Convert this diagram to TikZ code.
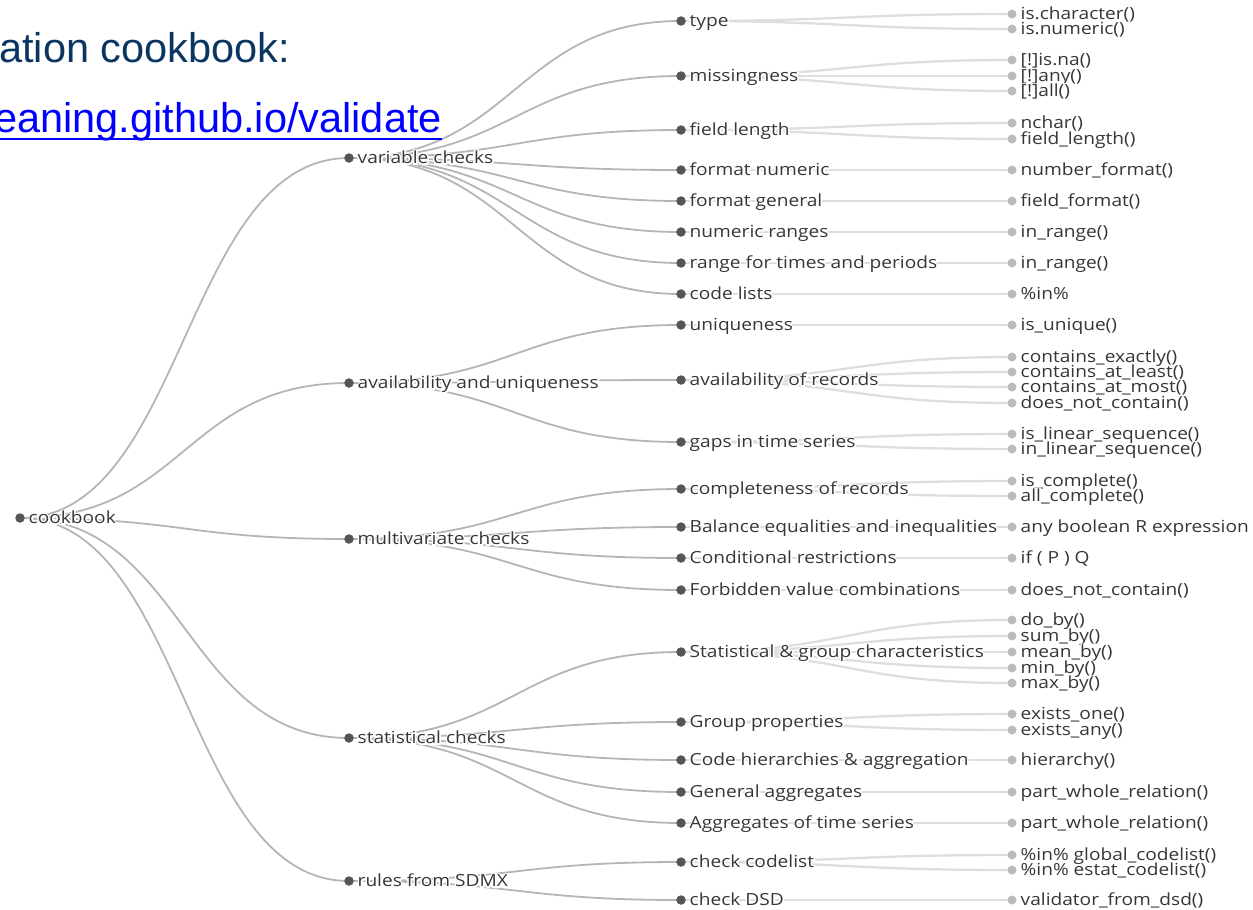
\documentclass[tikz,border=0pt]{standalone}
\usepackage{fontspec}
\setmainfont{Open Sans}
\newfontfamily\lblfont[FakeStretch=1.145]{Open Sans}
\newfontfamily\halofont[FakeStretch=1.145,FakeBold=18]{Open Sans}
\newfontfamily\titlef{Liberation Sans}
\usetikzlibrary{backgrounds}
\definecolor{dotdark}{HTML}{555555}
\definecolor{dotlight}{HTML}{BBBBBB}
\definecolor{txtc}{HTML}{363636}
\definecolor{linkc}{HTML}{B5B5B5}
\definecolor{leafc}{HTML}{DEDEDE}
\definecolor{navy}{HTML}{0B3561}
\definecolor{linkblue}{HTML}{0000FF}
\newcommand\hl[1]{\rlap{\color{white}\halofont #1}#1}
\tikzset{
  idot/.style={circle, fill=dotdark, inner sep=0pt, minimum size=9.5pt},
  ldot/.style={circle, fill=dotlight, inner sep=0pt, minimum size=9pt},
  lbl/.style={anchor=base west, inner sep=0pt, text=txtc, font=\fontsize{16.7}{19}\lblfont},
  lk/.style={draw=linkc, line width=1.8pt},
  lkl/.style={draw=leafc, line width=2.3pt},
}
\newcommand\inn[4]{\node[idot] (#1) at (#2,#3) {};
  \node[lbl] (#1t) at ([xshift=8.5pt,yshift=-5.7pt]#1.center) {\hl{#4}};}
\newcommand\lf[4]{\node[ldot] (#1) at (#2,#3) {};
  \node[lbl] (#1t) at ([xshift=8.5pt,yshift=-5.7pt]#1.center) {\hl{#4}};}
\newcommand\edg[2]{\draw[lk] (#1.center) .. controls +(165,0) and +(-165,0) .. (#2.center);}
\newcommand\edl[2]{\draw[lkl] (#1.center) .. controls +(166,0) and +(-166,0) .. (#2.center);}
\begin{document}
\begin{tikzpicture}[x=1pt,y=-1pt]
\useasboundingbox (0,0) rectangle (1253,910);
% title
\node[anchor=base west, inner sep=0pt, text=navy, font=\fontsize{41.5}{47}\titlef] (title) at (-1,62) {ation cookbook:};
\node[anchor=base west, inner sep=0pt, text=linkblue, font=\fontsize{41.5}{47}\titlef] (url) at (-6,132) {eaning.github.io/validate};
\draw[linkblue, line width=2.6pt] ([yshift=-7pt]url.base west) -- ([yshift=-7pt]url.base east);
% root
\inn{r}{20}{518}{cookbook}
% level 1
\inn{v}{349}{158}{variable checks}
\inn{a}{349}{383}{availability and uniqueness}
\inn{m}{349}{539}{multivariate checks}
\inn{s}{349}{738}{statistical checks}
\inn{x}{349}{881}{rules from SDMX}
% level 2
\inn{v1}{681}{21}{type}
\inn{v2}{681}{76}{missingness}
\inn{v3}{681}{130}{field length}
\inn{v4}{681}{170}{format numeric}
\inn{v5}{681}{201}{format general}
\inn{v6}{681}{232}{numeric ranges}
\inn{v7}{681}{263}{range for times and periods}
\inn{v8}{681}{294}{code lists}
\inn{a1}{681}{325}{uniqueness}
\inn{a2}{681}{380}{availability of records}
\inn{a3}{681}{442}{gaps in time series}
\inn{m1}{681}{489}{completeness of records}
\inn{m2}{681}{527}{Balance equalities and inequalities}
\inn{m3}{681}{558}{Conditional restrictions}
\inn{m4}{681}{590}{Forbidden value combinations}
\inn{s1}{681}{652}{Statistical \& group characteristics}
\inn{s2}{681}{722}{Group properties}
\inn{s3}{681}{760}{Code hierarchies \& aggregation}
\inn{s4}{681}{792}{General aggregates}
\inn{s5}{681}{823}{Aggregates of time series}
\inn{x1}{681}{862}{check codelist}
\inn{x2}{681}{900}{check DSD}
% leaves
\lf{v1a}{1012}{14}{is.character()}
\lf{v1b}{1012}{29}{is.numeric()}
\lf{v2a}{1012}{60}{[!]is.na()}
\lf{v2b}{1012}{76}{[!]any()}
\lf{v2c}{1012}{91}{[!]all()}
\lf{v3a}{1012}{123}{nchar()}
\lf{v3b}{1012}{139}{field\_length()}
\lf{v4a}{1012}{170}{number\_format()}
\lf{v5a}{1012}{201}{field\_format()}
\lf{v6a}{1012}{232}{in\_range()}
\lf{v7a}{1012}{263}{in\_range()}
\lf{v8a}{1012}{294}{\%in\%}
\lf{a1a}{1012}{325}{is\_unique()}
\lf{a2a}{1012}{357}{contains\_exactly()}
\lf{a2b}{1012}{372}{contains\_at\_least()}
\lf{a2c}{1012}{387}{contains\_at\_most()}
\lf{a2d}{1012}{403}{does\_not\_contain()}
\lf{a3a}{1012}{434}{is\_linear\_sequence()}
\lf{a3b}{1012}{449}{in\_linear\_sequence()}
\lf{m1a}{1012}{481}{is\_complete()}
\lf{m1b}{1012}{496}{all\_complete()}
\lf{m2a}{1012}{527}{any boolean R expression}
\lf{m3a}{1012}{558}{if ( P ) Q}
\lf{m4a}{1012}{590}{does\_not\_contain()}
\lf{s1a}{1012}{620}{do\_by()}
\lf{s1b}{1012}{636}{sum\_by()}
\lf{s1c}{1012}{652}{mean\_by()}
\lf{s1d}{1012}{668}{min\_by()}
\lf{s1e}{1012}{683}{max\_by()}
\lf{s2a}{1012}{714}{exists\_one()}
\lf{s2b}{1012}{730}{exists\_any()}
\lf{s3a}{1012}{760}{hierarchy()}
\lf{s4a}{1012}{792}{part\_whole\_relation()}
\lf{s5a}{1012}{823}{part\_whole\_relation()}
\lf{x1a}{1012}{855}{\%in\% global\_codelist()}
\lf{x1b}{1012}{870}{\%in\% estat\_codelist()}
\lf{x2a}{1012}{900}{validator\_from\_dsd()}
\begin{pgfonlayer}{background}
\foreach \c in {v,a,m,s,x} {\edg{r}{\c}}
\foreach \c in {v1,v2,v3,v4,v5,v6,v7,v8} {\edg{v}{\c}}
\foreach \c in {a1,a2,a3} {\edg{a}{\c}}
\foreach \c in {m1,m2,m3,m4} {\edg{m}{\c}}
\foreach \c in {s1,s2,s3,s4,s5} {\edg{s}{\c}}
\foreach \c in {x1,x2} {\edg{x}{\c}}
\foreach \p/\c in {v1/v1a,v1/v1b,v2/v2a,v2/v2b,v2/v2c,v3/v3a,v3/v3b,v4/v4a,v5/v5a,v6/v6a,v7/v7a,v8/v8a,
  a1/a1a,a2/a2a,a2/a2b,a2/a2c,a2/a2d,a3/a3a,a3/a3b,m1/m1a,m1/m1b,m2/m2a,m3/m3a,m4/m4a,
  s1/s1a,s1/s1b,s1/s1c,s1/s1d,s1/s1e,s2/s2a,s2/s2b,s3/s3a,s4/s4a,s5/s5a,x1/x1a,x1/x1b,x2/x2a} {\edl{\p}{\c}}
\end{pgfonlayer}
\end{tikzpicture}
\end{document}
